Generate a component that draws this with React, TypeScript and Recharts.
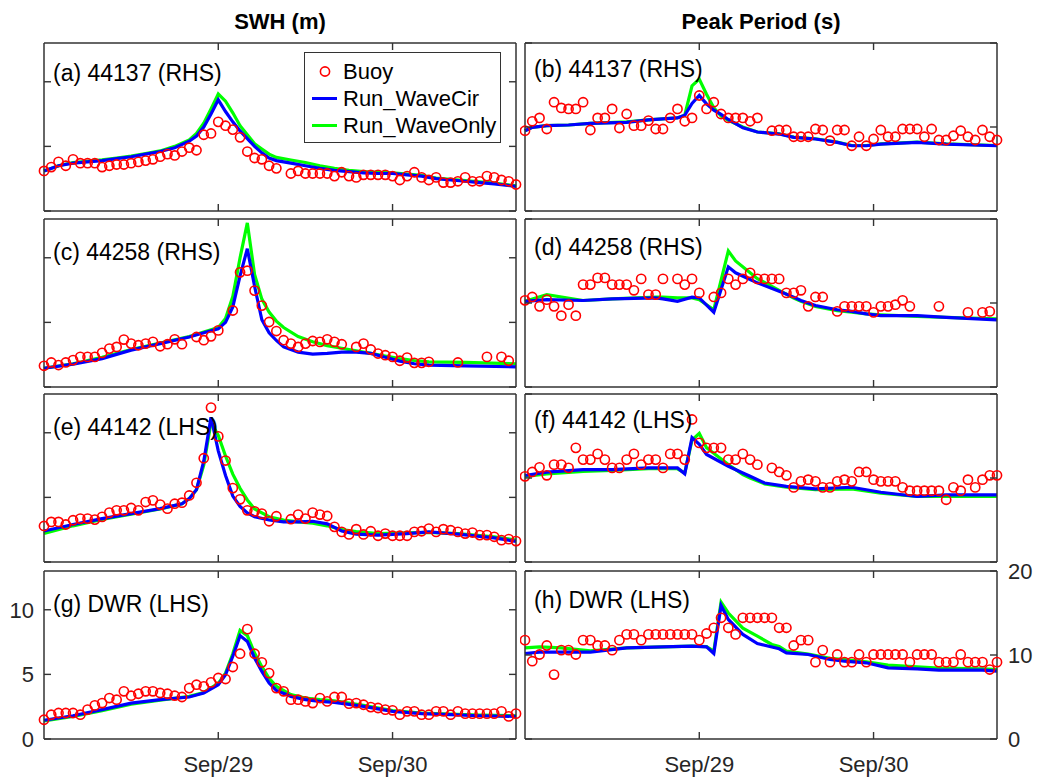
import { ComposedChart, Legend, Line, Scatter, XAxis, YAxis } from "recharts";

// hours since Sep 28 00:00 (buoy records are hourly)
const HOURS = [
  0, 1, 2, 3, 4, 5, 6, 7, 8, 9, 10, 11, 12, 13, 14, 15, 16, 17, 18, 19, 20, 21, 22,
  23, 24, 25, 26, 27, 28, 29, 30, 31, 32, 33, 34, 35, 36, 37, 38, 39, 40, 41, 42, 43,
  44, 45, 46, 47, 48, 49, 50, 51, 52, 53, 54, 55, 56, 57, 58, 59, 60, 61, 62, 63, 64, 65,
];
const X_TICKS = [24, 48];
const X_LABELS = ["Sep/29", "Sep/30"];
const SWH_TICKS = [0, 5, 10];
const TP_TICKS = [0, 10, 20];
const SERIES_NAMES = ["Buoy", "Run_WaveCir", "Run_WaveOnly"];
const COLUMN_TITLES = ["SWH (m)", "Peak Period (s)"];

// (a) 44137 SWH
const A_BUOY = [
  3.1, 3.4, 3.8, 3.5, 4.0, 3.7, 3.7, 3.7, 3.4, 3.5, 3.6, 3.6, 3.7, 3.8, 3.9, 4.0, 4.2, 4.4, 4.3, 4.6,
  4.9, 4.7, 5.9, 6.0, 6.9, 6.6, 6.3, 5.7, 4.6, 4.1, 4.0, 3.5, 3.3, null, 2.9, 3.1, 2.9, 2.9, 2.9, 2.9,
  2.7, 3.0, 2.7, 2.6, 2.8, 2.8, 2.8, 2.8, 2.7, 2.4, 2.7, 3.0, 2.6, 2.4, 2.6, 2.2, 2.2, 2.3, 2.6, 2.3,
  2.3, 2.7, 2.6, 2.4, 2.3, 2.05,
];
const A_T = [0, 2, 4, 6, 8, 10, 12, 14, 16, 18, 20, 21, 22, 23, 24, 25, 26, 27, 28, 29, 30, 31, 32, 34, 36, 38, 40, 42, 44, 46, 48, 50, 52, 54, 56, 58, 60, 62, 65];
const A_CIR = [3.1, 3.5, 3.7, 3.8, 3.9, 4.05, 4.2, 4.4, 4.6, 4.9, 5.4, 5.8, 6.5, 7.5, 8.6, 7.7, 6.9, 6.2, 5.6, 5.0, 4.5, 4.1, 3.9, 3.7, 3.5, 3.3, 3.15, 3.05, 2.95, 2.9, 2.9, 2.8, 2.7, 2.5, 2.4, 2.3, 2.2, 2.1, 1.9];
const A_ONLY = [3.1, 3.5, 3.75, 3.85, 3.95, 4.1, 4.25, 4.45, 4.65, 5.0, 5.5, 6.0, 6.8, 7.9, 9.05, 8.5, 7.6, 6.6, 5.9, 5.2, 4.8, 4.4, 4.15, 3.95, 3.75, 3.5, 3.3, 3.15, 3.05, 3.0, 2.95, 2.85, 2.75, 2.55, 2.45, 2.35, 2.25, 2.15, 1.95];

// (b) 44137 peak period
const B_BUOY = [
  9.56, 10.68, 11.08, 9.76, 12.95, 12.27, 12.15, 12.15, 12.95, 9.64, 11.08, 11.08, 12.15, 9.88, 11.55,
  10.16, 10.16, 10.76, 9.76, 9.76, 11.08, 12.15, 10.68, 11.08, 13.75, 12.15, 12.95, 11.55, 11.08, 11.08,
  11.08, 10.68, 11.08, null, 9.56, 9.64, 9.64, 8.84, 8.84, 8.84, 9.76, 9.64, 8.37, 9.64, 9.64, 7.77,
  8.84, 7.77, 8.57, 9.64, 8.84, 8.84, 9.76, 9.76, 9.76, 8.84, 9.76, 8.45, 8.45, 8.96, 9.56, 8.84, 8.45,
  9.64, 8.84, 8.45,
];
const B_T = [0, 1, 3, 6, 9, 14, 17, 21, 22, 23, 24, 25, 26, 27, 28, 30, 32, 35, 37, 40, 43, 45, 47, 49, 54, 58, 65];
const B_CIR = [9.56, 9.96, 10.16, 10.24, 10.44, 10.56, 10.84, 11.08, 11.4, 12.8, 13.75, 12.75, 12.0, 11.5, 10.9, 9.9, 9.4, 9.16, 8.76, 8.57, 8.17, 7.77, 7.77, 7.97, 8.17, 7.97, 7.77];
const B_ONLY = [9.56, 9.96, 10.16, 10.24, 10.44, 10.6, 10.84, 11.1, 11.4, 14.9, 15.7, 13.9, 12.3, 11.3, 10.8, 10.0, 9.4, 9.2, 8.8, 8.6, 8.2, 7.8, 7.8, 8.0, 8.2, 8.0, 7.8];

// (c) 44258 SWH
const C_BUOY = [
  1.64, 1.9, 1.7, 1.9, 2.08, 2.33, 2.33, 2.33, 2.64, 2.97, 3.1, 3.67, 3.36, 3.23, 3.36, 3.49, 3.15, 3.31,
  3.69, 3.31, null, 3.87, 3.62, 3.92, 4.38, null, 5.92, 8.87, 9.0, 7.46, 6.3, 5.03, 4.33, 3.62, 3.36,
  3.1, 3.36, 3.56, 3.49, 3.69, 3.49, 3.31, null, 3.1, 3.36, 2.9, 2.59, 2.46, 2.33, 2.03, 2.28, 1.87,
  1.87, 1.95, null, null, null, 1.9, null, null, null, 2.33, null, 2.33, 2.03, null,
];
const C_T = [0, 4, 8, 12, 16, 20, 22, 24, 25, 26, 27, 28, 29, 30, 31, 32, 33, 35, 37, 39, 41, 43, 45, 47, 49, 51, 53, 58, 65];
const C_CIR = [1.45, 1.77, 2.2, 2.85, 3.36, 3.87, 4.2, 4.5, 5.0, 6.2, 8.6, 10.7, 7.8, 5.2, 4.2, 3.6, 3.1, 2.7, 2.55, 2.6, 2.7, 2.7, 2.6, 2.3, 2.0, 1.8, 1.7, 1.63, 1.56];
const C_ONLY = [1.45, 1.8, 2.3, 2.9, 3.4, 3.9, 4.25, 4.6, 5.3, 7.0, 10.0, 12.7, 8.7, 6.8, 5.8, 5.1, 4.6, 3.9, 3.5, 3.2, 3.0, 2.8, 2.6, 2.4, 2.2, 2.05, 1.95, 1.9, 1.8];

// (d) 44258 peak period
const D_BUOY = [
  10.32, 10.72, 9.6, 10.4, 9.6, 8.49, 9.8, 8.49, 12.19, 12.19, 12.99, 12.99, 12.19, 12.19, 12.19, 11.51,
  12.87, 11.0, 11.0, 12.87, null, 12.87, 12.19, 12.87, 11.2, null, 10.72, 11.2, 12.87, 12.19, 12.87,
  13.59, 12.87, 12.87, 12.87, 12.87, 11.2, 11.2, 11.51, 9.6, 10.72, 10.72, null, 9.0, 9.6, 9.6, 9.6,
  9.6, 8.88, 9.6, 9.6, 9.8, 10.32, 9.6, null, null, null, 9.6, null, null, null, 8.88, null, 8.88, 9.0,
  null,
];
const D_T = [0, 3, 8, 12, 18, 19, 21, 23, 24, 26, 28, 29, 31, 32, 35, 37, 38, 40, 43, 45, 47, 49, 54, 58, 65];
const D_CIR = [10.2, 10.4, 10.3, 10.5, 10.6, 10.5, 10.2, 10.7, 10.6, 8.9, 14.3, 13.6, 12.8, 12.4, 11.4, 10.7, 10.3, 9.7, 9.2, 9.0, 8.7, 8.5, 8.5, 8.3, 8.0];
const D_ONLY = [10.2, 11.0, 10.3, 10.5, 10.7, 10.7, 10.6, 10.6, 10.4, 9.2, 16.2, 15.0, 13.6, 12.9, 11.5, 10.6, 10.2, 9.6, 9.1, 8.9, 8.7, 8.6, 8.4, 8.3, 8.1];

// (e) 44142 SWH
const E_BUOY = [
  2.79, 3.1, 3.1, 2.9, 3.23, 3.36, 3.36, 3.28, 3.49, 3.82, 4.0, 4.0, 4.18, 4.0, 4.64, 4.77, 4.44, 4.13,
  4.51, 4.59, 5.15, 6.13, 8.03, 11.95, 9.72, 7.85, 5.72, 4.85, 4.0, 3.92, 3.74, 3.15, 3.54, null, 3.31,
  3.67, 3.36, 3.82, 3.67, 3.56, 2.72, 2.33, 2.13, 2.54, 2.13, 2.38, 2.03, 2.2, 2.03, 2.03, 2.03, 2.33,
  2.38, 2.59, 2.33, 2.54, 2.46, 2.33, 2.2, 2.28, 2.08, 2.08, 1.95, 1.69, 1.77, 1.62,
];
const E_T = [0, 4, 8, 12, 16, 19, 20, 21, 22, 23, 24, 25, 26, 27, 28, 29, 31, 33, 35, 37, 39, 41, 43, 46, 50, 53, 57, 62, 65];
const E_CIR = [2.4, 2.9, 3.36, 3.74, 4.13, 4.5, 4.9, 5.6, 7.8, 11.2, 8.6, 6.7, 5.1, 4.3, 3.8, 3.5, 3.25, 3.1, 3.1, 3.15, 2.95, 2.4, 2.15, 2.08, 2.2, 2.33, 2.15, 1.87, 1.6];
const E_ONLY = [2.2, 2.8, 3.3, 3.7, 4.1, 4.5, 4.9, 5.6, 7.5, 10.8, 9.8, 8.2, 6.8, 5.7, 4.8, 4.1, 3.5, 3.25, 3.1, 3.0, 2.8, 2.5, 2.35, 2.2, 2.25, 2.3, 2.2, 1.95, 1.7];

// (f) 44142 peak period
const F_BUOY = [
  10.2, 10.72, 11.27, 10.32, 11.59, 11.59, 11.2, 13.59, 12.19, 12.19, 12.87, 12.19, 11.2, 11.2, 12.19,
  12.87, 11.59, 12.19, 12.19, 11.2, 12.87, 12.87, 12.19, 16.97, 14.18, 13.59, 13.59, 13.59, 12.19,
  12.19, 12.87, 12.19, 11.59, null, 11.2, 10.72, 10.32, 8.88, 9.6, 9.8, 9.6, 8.88, 8.88, 9.6, 9.8, 9.6,
  10.72, 10.72, 9.8, 9.6, 9.6, 9.6, 8.88, 8.49, 8.49, 8.49, 8.49, 8.49, 7.41, 8.88, 8.49, 9.8, 8.88, 9.8,
  10.32, 10.32,
];
const F_T = [0, 3, 8, 12, 17, 21, 22, 23, 24, 25, 28, 30, 31, 33, 36, 40, 45, 49, 54, 58, 65];
const F_CIR = [10.3, 10.7, 11.0, 11.0, 11.2, 11.2, 10.5, 14.8, 14.0, 12.8, 11.4, 10.6, 10.2, 9.4, 9.0, 8.7, 8.9, 8.3, 7.8, 8.0, 8.0];
const F_ONLY = [10.2, 10.5, 10.8, 10.9, 11.1, 11.1, 10.6, 14.5, 15.3, 13.6, 11.6, 10.4, 10.0, 9.3, 8.9, 8.6, 8.7, 8.2, 7.8, 7.85, 7.8];

// (g) DWR SWH
const G_BUOY = [
  1.49, 1.88, 2.01, 2.01, 2.01, 1.88, 2.27, 2.6, 2.78, 3.17, 3.04, 3.69, 3.35, 3.5, 3.69, 3.69, 3.56, 3.5,
  3.35, 3.25, 3.94, 4.2, 4.07, 4.38, 4.72, 4.64, 5.57, 6.6, 8.5, 6.6, 5.93, 5.1, 3.94, 3.69, 3.04, 3.04,
  2.91, 2.78, 3.17, 2.91, 3.25, 3.25, 2.73, 2.78, 2.65, 2.47, 2.4, 2.27, 2.22, 1.88, 2.14, 2.14, 1.88,
  1.88, 2.14, 2.14, 1.88, 2.14, 1.96, 1.96, 1.96, 1.96, 1.96, 2.14, 1.75, 1.96,
];
const G_T = [0, 4, 8, 12, 16, 20, 22, 24, 25, 26, 27, 28, 29, 30, 31, 32, 34, 36, 38, 40, 44, 48, 52, 56, 60, 65];
const G_CIR = [1.45, 1.8, 2.27, 2.78, 3.04, 3.25, 3.56, 4.2, 4.97, 6.4, 8.0, 7.55, 6.26, 5.23, 4.33, 3.76, 3.3, 3.04, 2.91, 2.84, 2.53, 2.14, 1.96, 1.88, 1.8, 1.75];
const G_ONLY = [1.4, 1.75, 2.2, 2.7, 3.0, 3.3, 3.6, 4.3, 5.1, 6.6, 8.4, 8.0, 6.65, 5.6, 4.7, 4.07, 3.43, 3.17, 3.04, 2.95, 2.6, 2.2, 2.0, 1.92, 1.85, 1.8];

// (h) DWR peak period
const H_BUOY = [
  11.77, 9.26, 10.06, 11.13, 7.67, 10.58, 10.58, 10.06, 11.77, 11.77, 11.13, 11.13, 10.58, 11.77, 12.45,
  12.45, 11.77, 12.45, 12.45, 12.45, 12.45, 12.45, 12.45, 12.45, 11.77, 12.56, 13.24, 14.43, 13.24,
  12.45, 14.43, 14.43, 14.43, 14.43, 14.43, 13.24, 13.24, 11.13, 11.77, 11.77, 9.15, 10.58, 9.15, 10.06,
  9.15, 9.15, 10.06, 9.15, 10.06, 10.06, 10.06, 10.06, 10.06, 9.15, 10.06, 10.06, 10.06, 9.15, 9.15,
  9.15, 10.06, 9.15, 9.15, 9.15, 8.27, 9.15,
];
const H_T = [0, 2, 5, 9, 14, 19, 23, 25, 26, 27, 28, 30, 32, 34, 35, 36, 39, 42, 44, 47, 50, 54, 57, 63, 65];
const H_CIR = [10.18, 10.34, 10.34, 10.34, 10.85, 10.97, 11.05, 10.97, 10.18, 15.9, 14.23, 12.45, 11.37, 10.95, 10.74, 10.26, 10.06, 9.46, 9.26, 9.07, 8.47, 8.35, 8.19, 8.19, 8.07];
const H_ONLY = [10.85, 10.97, 10.85, 10.5, 10.85, 10.97, 11.05, 11.0, 10.46, 16.3, 15.0, 13.2, 12.25, 11.25, 11.0, 10.46, 10.1, 9.6, 9.46, 9.2, 8.8, 8.6, 8.45, 8.35, 8.27];

const FONT = '"Liberation Sans", Arial, Helvetica, sans-serif';
const AXIS_COLOR = "#333333";
const TEXT_COLOR = "#262626";
const RED = "#ff0000";
const BLUE = "#0000ff";
const GREEN = "#00ff00";

const ROW_TOPS = [43, 219, 394, 571];
const PLOT_H = 168;
const TICK_LEN = 7;

type Pt = { t: number; v: number };
type Side = "bottom" | "top" | "left" | "right";

function toPoints(t: number[], v: (number | null)[]): Pt[] {
  const out: Pt[] = [];
  t.forEach((x, i) => {
    const y = v[i];
    if (y !== null && y !== undefined) out.push({ t: x, v: y });
  });
  return out;
}

// inward tick mark (matlab style) plus an optional label outside the box
function makeTick(side: Side, edge: number, showLabel: boolean, fmt: (v: number) => string) {
  return (props: any) => {
    const c: number = props.payload.coordinate;
    const v: number = props.payload.value;
    const textProps = { fontSize: 22, fill: TEXT_COLOR, fontFamily: FONT };
    if (side === "bottom" || side === "top") {
      const dir = side === "bottom" ? -1 : 1;
      return (
        <g>
          <line x1={c} x2={c} y1={edge} y2={edge + dir * TICK_LEN} stroke={AXIS_COLOR} strokeWidth={1.4} />
          {showLabel && (
            <text x={c} y={edge + 33} textAnchor="middle" {...textProps}>
              {fmt(v)}
            </text>
          )}
        </g>
      );
    }
    const dir = side === "left" ? 1 : -1;
    return (
      <g>
        <line x1={edge} x2={edge + dir * TICK_LEN} y1={c} y2={c} stroke={AXIS_COLOR} strokeWidth={1.4} />
        {showLabel && (
          <text
            x={side === "left" ? edge - 10 : edge + 11}
            y={c + 8}
            textAnchor={side === "left" ? "end" : "start"}
            {...textProps}
          >
            {fmt(v)}
          </text>
        )}
      </g>
    );
  };
}

interface PanelDef {
  label: string;
  col: number;
  row: number;
  labelDy: number;
  buoy: (number | null)[];
  t: number[];
  cir: number[];
  only: number[];
}

const PANELS: PanelDef[] = [
  { label: "(a) 44137 (RHS)", col: 0, row: 0, labelDy: 31, buoy: A_BUOY, t: A_T, cir: A_CIR, only: A_ONLY },
  { label: "(b) 44137 (RHS)", col: 1, row: 0, labelDy: 27, buoy: B_BUOY, t: B_T, cir: B_CIR, only: B_ONLY },
  { label: "(c) 44258 (RHS)", col: 0, row: 1, labelDy: 34, buoy: C_BUOY, t: C_T, cir: C_CIR, only: C_ONLY },
  { label: "(d) 44258 (RHS)", col: 1, row: 1, labelDy: 29, buoy: D_BUOY, t: D_T, cir: D_CIR, only: D_ONLY },
  { label: "(e) 44142 (LHS)", col: 0, row: 2, labelDy: 34, buoy: E_BUOY, t: E_T, cir: E_CIR, only: E_ONLY },
  { label: "(f) 44142 (LHS)", col: 1, row: 2, labelDy: 27, buoy: F_BUOY, t: F_T, cir: F_CIR, only: F_ONLY },
  { label: "(g) DWR (LHS)", col: 0, row: 3, labelDy: 34, buoy: G_BUOY, t: G_T, cir: G_CIR, only: G_ONLY },
  { label: "(h) DWR (LHS)", col: 1, row: 3, labelDy: 30, buoy: H_BUOY, t: H_T, cir: H_CIR, only: H_ONLY },
];

const ring = (props: any) => (
  <circle cx={props.cx} cy={props.cy} r={4.6} fill="none" stroke={RED} strokeWidth={1.6} />
);

function LegendBox(): React.JSX.Element {
  return (
    <div
      style={{
        width: 197,
        height: 91,
        boxSizing: "border-box",
        border: `1.5px solid ${AXIS_COLOR}`,
        background: "#fff",
        position: "relative",
        fontFamily: FONT,
      }}
    >
      {SERIES_NAMES.map((name, i) => (
        <div
          key={name}
          style={{ position: "absolute", left: 0, top: 5 + i * 27, height: 27, display: "flex", alignItems: "center" }}
        >
          <svg width={38} height={27} style={{ display: "block" }}>
            {i === 0 ? (
              <circle cx={20} cy={13.5} r={4.6} fill="none" stroke={RED} strokeWidth={1.6} />
            ) : (
              <line x1={7} x2={32} y1={13.5} y2={13.5} stroke={i === 1 ? BLUE : GREEN} strokeWidth={3} />
            )}
          </svg>
          <span style={{ fontSize: 22, color: "#000", lineHeight: "27px" }}>{name}</span>
        </div>
      ))}
    </div>
  );
}

function Panel({ p }: { p: PanelDef }): React.JSX.Element {
  const isLeft = p.col === 0;
  const isBottom = p.row === 3;
  const rowTop = ROW_TOPS[p.row];
  const padTop = isBottom ? 18 : 10;
  const chartLeft = isLeft ? 0 : 520;
  const chartTop = rowTop - padTop;
  const width = isLeft ? 522 : 520;
  const xAxisH = isBottom ? 42 : 1;
  const height = padTop + PLOT_H + xAxisH + 2;
  // the thin mirror axes take 1px each, so the margins leave room for them
  const margin = isLeft
    ? { top: padTop - 1, right: 5, bottom: 2, left: 8 }
    : { top: padTop - 1, right: 0, bottom: 2, left: 4 };
  const yAxisW = isLeft ? 36 : 43;
  const plotLeft = isLeft ? margin.left + yAxisW : margin.left + 1;
  const plotRight = isLeft ? width - margin.right - 1 : width - margin.right - yAxisW;
  const plotTop = padTop;
  const plotBottom = padTop + PLOT_H;
  const domain: [number, number] = isLeft ? [0, 13] : [0, 20];
  const yTicks = isLeft ? SWH_TICKS : TP_TICKS;
  const line = { stroke: AXIS_COLOR, strokeWidth: 1.5 };
  const xFmt = (h: number) => X_LABELS[X_TICKS.indexOf(h)] ?? "";
  const yFmt = (v: number) => String(v);

  const buoy = toPoints(HOURS, p.buoy);
  const cir = toPoints(p.t, p.cir);
  const only = toPoints(p.t, p.only);

  return (
    <div style={{ position: "absolute", left: chartLeft, top: chartTop }}>
      <ComposedChart width={width} height={height} margin={margin}>
        <XAxis
          xAxisId="main"
          type="number"
          dataKey="t"
          domain={[0, 65]}
          ticks={X_TICKS}
          interval={0}
          height={xAxisH}
          tick={makeTick("bottom", plotBottom, isBottom, xFmt)}
          tickLine={false}
          axisLine={line}
        />
        <XAxis
          xAxisId="top"
          orientation="top"
          type="number"
          dataKey="t"
          domain={[0, 65]}
          allowDataOverflow
          ticks={X_TICKS}
          interval={0}
          height={1}
          tick={makeTick("top", plotTop, false, xFmt)}
          tickLine={false}
          axisLine={line}
        />
        <YAxis
          yAxisId="main"
          orientation={isLeft ? "left" : "right"}
          type="number"
          domain={domain}
          ticks={yTicks}
          interval={0}
          width={yAxisW}
          tick={makeTick(isLeft ? "left" : "right", isLeft ? plotLeft : plotRight, isBottom, yFmt)}
          tickLine={false}
          axisLine={line}
        />
        <YAxis
          yAxisId="mirror"
          orientation={isLeft ? "right" : "left"}
          type="number"
          domain={domain}
          allowDataOverflow
          ticks={yTicks}
          interval={0}
          width={1}
          tick={makeTick(isLeft ? "right" : "left", isLeft ? plotRight : plotLeft, false, yFmt)}
          tickLine={false}
          axisLine={line}
        />
        <Line
          xAxisId="main"
          yAxisId="main"
          data={only}
          dataKey="v"
          type="linear"
          stroke={GREEN}
          strokeWidth={3.2}
          dot={false}
          isAnimationActive={false}
        />
        <Line
          xAxisId="main"
          yAxisId="main"
          data={cir}
          dataKey="v"
          type="linear"
          stroke={BLUE}
          strokeWidth={3.2}
          dot={false}
          isAnimationActive={false}
        />
        <Scatter
          xAxisId="main"
          yAxisId="main"
          data={buoy}
          dataKey="v"
          shape={ring}
          isAnimationActive={false}
        />
        {p.row === 0 && isLeft && (
          <Legend
            layout="vertical"
            align="center"
            verticalAlign="middle"
            wrapperStyle={{ left: 304, top: 52 - chartTop, width: 197, height: 91 }}
            content={() => <LegendBox />}
          />
        )}
      </ComposedChart>
      <div
        style={{
          position: "absolute",
          left: plotLeft + 9,
          top: padTop + p.labelDy - 12,
          fontSize: 23,
          lineHeight: "23px",
          color: "#000",
          fontFamily: FONT,
          whiteSpace: "nowrap",
          pointerEvents: "none",
        }}
      >
        {p.label}
      </div>
    </div>
  );
}

export default function App(): React.JSX.Element {
  return (
    <div
      style={{
        position: "absolute",
        left: 0,
        top: 0,
        width: 1040,
        height: 782,
        background: "#fff",
        fontFamily: FONT,
        overflow: "hidden",
      }}
    >
      {COLUMN_TITLES.map((title, i) => (
        <div
          key={title}
          style={{
            position: "absolute",
            left: (i === 0 ? 280 : 761) - 150,
            top: 11,
            width: 300,
            textAlign: "center",
            fontSize: 22,
            lineHeight: "22px",
            fontWeight: "bold",
            color: "#000",
          }}
        >
          {title}
        </div>
      ))}
      {PANELS.map((p) => (
        <Panel key={p.label} p={p} />
      ))}
    </div>
  );
}
